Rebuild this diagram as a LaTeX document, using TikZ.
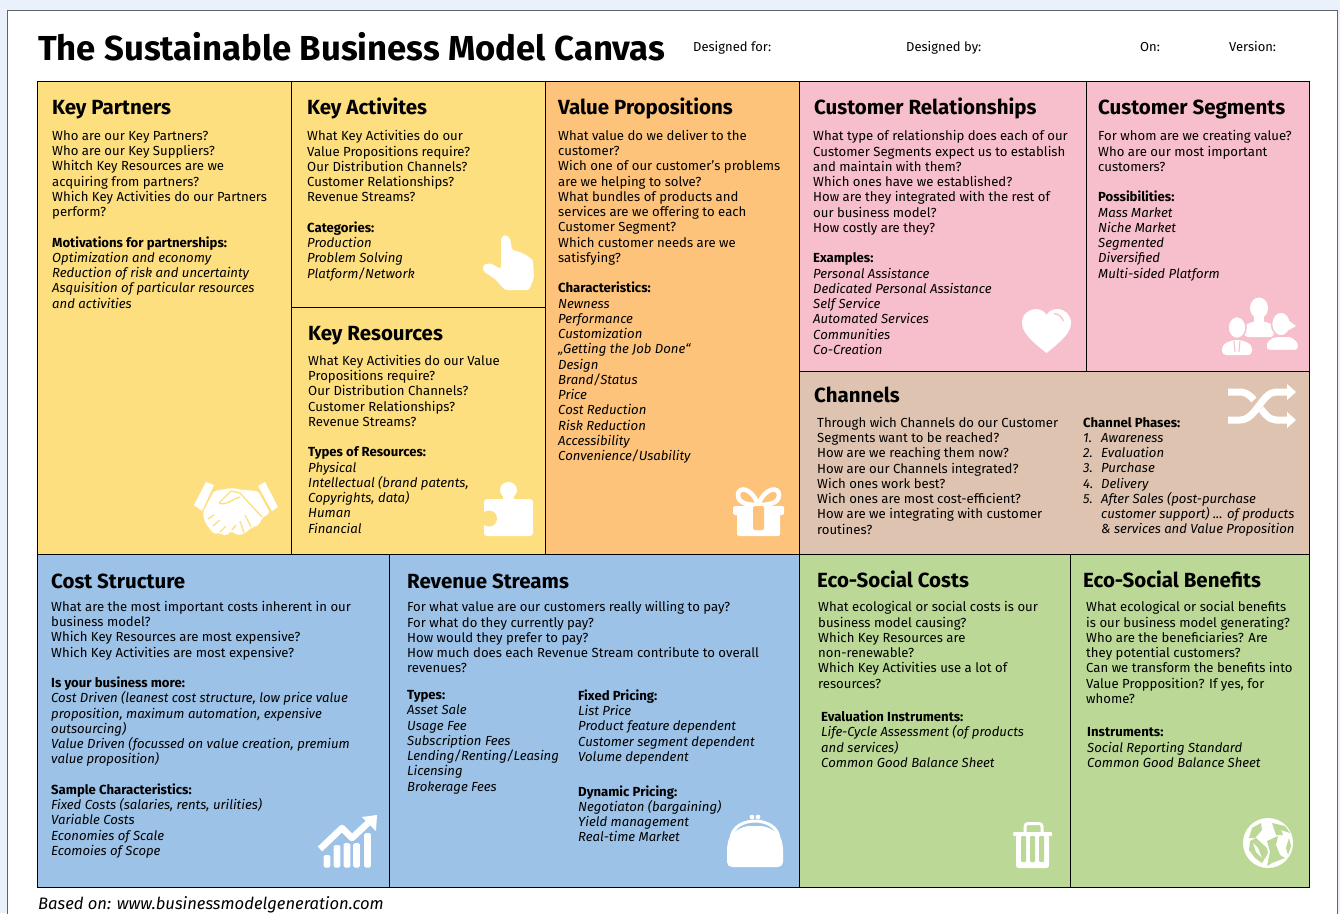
\documentclass[tikz,border=0pt]{standalone}
\usepackage{fontspec}
\setmainfont{Fira Sans}
\definecolor{pagebg}{HTML}{EAF1FB}
\definecolor{rimgray}{HTML}{5F646B}
\definecolor{yellowbg}{HTML}{FEDF7F}
\definecolor{orangebg}{HTML}{FDC37A}
\definecolor{pinkbg}{HTML}{F7BECB}
\definecolor{tanbg}{HTML}{DEC3B0}
\definecolor{bluebg}{HTML}{9CC2E8}
\definecolor{greenbg}{HTML}{BBD896}
\newcommand{\lbl}[1]{\textbf{#1}}
\newcommand{\blank}{\\[\baselineskip]}
\newcommand{\numd}[1]{\makebox[18pt][l]{#1}}
\tikzset{
  cell/.style={draw=black,line width=1pt},
  heading/.style={anchor=base west,inner sep=0pt,font=\fontsize{20.5}{24}\selectfont\bfseries},
  bodytext/.style={anchor=north west,inner sep=0pt,align=left,font=\fontsize{13.15}{15.25}\selectfont,execute at begin node={\strut}},
  small/.style={anchor=base west,inner sep=0pt,font=\fontsize{13}{15}\selectfont},
  icon/.style={fill=white,draw=none},
}
\begin{document}
\begin{tikzpicture}[x=1pt,y=-1pt]

  \useasboundingbox (0,0) rectangle (1340,913);
  \fill[pagebg] (0,0) rectangle (1340,913);
  \draw[rimgray,line width=1pt,fill=white] (7.5,10.5) rectangle (1337.5,920);

  \node (TITLE) at (38,60) [anchor=base west,inner sep=0pt,font=\fontsize{34.7}{40}\selectfont\bfseries] {The Sustainable Business Model Canvas};
  \node (FOR) at (693,51) [small] {Designed for:};
  \node (BY) at (906,51) [small] {Designed by:};
  \node (ON) at (1140,51) [small] {On:};
  \node (VER) at (1229,51) [small] {Version:};

  \draw[cell,fill=yellowbg] (37.5,81.5) rectangle (291.5,554.5);
  \draw[cell,fill=yellowbg] (291.5,81.5) rectangle (545.5,307.5);
  \draw[cell,fill=yellowbg] (291.5,307.5) rectangle (545.5,554.5);
  \draw[cell,fill=orangebg] (545.5,81.5) rectangle (799.5,554.5);
  \draw[cell,fill=pinkbg] (799.5,81.5) rectangle (1086.5,371.5);
  \draw[cell,fill=pinkbg] (1086.5,81.5) rectangle (1309.5,371.5);
  \draw[cell,fill=tanbg] (799.5,371.5) rectangle (1309.5,554.5);
  \draw[cell,fill=bluebg] (37.5,554.5) rectangle (389.5,887.5);
  \draw[cell,fill=bluebg] (389.5,554.5) rectangle (799.5,887.5);
  \draw[cell,fill=greenbg] (799.5,554.5) rectangle (1070.5,887.5);
  \draw[cell,fill=greenbg] (1070.5,554.5) rectangle (1309.5,887.5);

  \node (PARTH) at (52,114) [heading] {Key Partners};
  \node (PARTB) at (52,130.3) [bodytext] {Who are our Key Partners?\\
    Who are our Key Suppliers?\\
    Whitch Key Resources are we\\
    acquiring from partners?\\
    Which Key Activities do our Partners\\
    perform?\blank
    \lbl{Motivations for partnerships:}\\
    \itshape Optimization and economy\\
    \itshape Reduction of risk and uncertainty\\
    \itshape Asquisition of particular resources\\
    \itshape and activities};

  \node (ACTH) at (307,114) [heading] {Key Activites};
  \node (ACTB) at (307,130.3) [bodytext] {What Key Activities do our\\
    Value Propositions require?\\
    Our Distribution Channels?\\
    Customer Relationships?\\
    Revenue Streams?\blank
    \lbl{Categories:}\\
    \itshape Production\\
    \itshape Problem Solving\\
    \itshape Platform/Network};

  \node (RESH) at (308,340) [heading] {Key Resources};
  \node (RESB) at (308,354.8) [bodytext] {What Key Activities do our Value\\
    Propositions require?\\
    Our Distribution Channels?\\
    Customer Relationships?\\
    Revenue Streams?\blank
    \lbl{Types of Resources:}\\
    \itshape Physical\\
    \itshape Intellectual (brand patents,\\
    \itshape Copyrights, data)\\
    \itshape Human\\
    \itshape Financial};

  \node (VALH) at (558,114) [heading] {Value Propositions};
  \node (VALB) at (558,129.8) [bodytext] {What value do we deliver to the\\
    customer?\\
    Wich one of our customer’s problems\\
    are we helping to solve?\\
    What bundles of products and\\
    services are we offering to each\\
    Customer Segment?\\
    Which customer needs are we\\
    satisfying?\blank
    \lbl{Characteristics:}\\
    \itshape Newness\\
    \itshape Performance\\
    \itshape Customization\\
    \itshape „Getting the Job Done“\\
    \itshape Design\\
    \itshape Brand/Status\\
    \itshape Price\\
    \itshape Cost Reduction\\
    \itshape Risk Reduction\\
    \itshape Accessibility\\
    \itshape Convenience/Usability};

  \node (RELH) at (814,114) [heading] {Customer Relationships};
  \node (RELB) at (813,130.3) [bodytext] {What type of relationship does each of our\\
    Customer Segments expect us to establish\\
    and maintain with them?\\
    Which ones have we established?\\
    How are they integrated with the rest of\\
    our business model?\\
    How costly are they?\blank
    \lbl{Examples:}\\
    \itshape Personal Assistance\\
    \itshape Dedicated Personal Assistance\\
    \itshape Self Service\\
    \itshape Automated Services\\
    \itshape Communities\\
    \itshape Co-Creation};

  \node (SEGH) at (1098,114) [heading] {Customer Segments};
  \node (SEGB) at (1098,130.3) [bodytext] {For whom are we creating value?\\
    Who are our most important\\
    customers?\blank
    \lbl{Possibilities:}\\
    \itshape Mass Market\\
    \itshape Niche Market\\
    \itshape Segmented\\
    \itshape Diversified\\
    \itshape Multi-sided Platform};

  \node (CHANH) at (814,402) [heading] {Channels};
  \node (CHANB) at (817,417) [bodytext] {Through wich Channels do our Customer\\
    Segments want to be reached?\\
    How are we reaching them now?\\
    How are our Channels integrated?\\
    Wich ones work best?\\
    Wich ones are most cost-efficient?\\
    How are we integrating with customer\\
    routines?};
  \node (PHASE) at (1083,417) [bodytext] {\lbl{Channel Phases:}\\
    \itshape\numd{1.}Awareness\\
    \itshape\numd{2.}Evaluation\\
    \itshape\numd{3.}Purchase\\
    \itshape\numd{4.}Delivery\\
    \itshape\numd{5.}After Sales (post-purchase\\
    \itshape\numd{}customer support) ... of products\\
    \itshape\numd{}\& services and Value Proposition};

  \node (COSTH) at (51,588) [heading] {Cost Structure};
  \node (COSTB) at (51,600.8) [bodytext] {What are the most important costs inherent in our\\
    business model?\\
    Which Key Resources are most expensive?\\
    Which Key Activities are most expensive?\blank
    \lbl{Is your business more:}\\
    \itshape Cost Driven (leanest cost structure, low price value\\
    \itshape proposition, maximum automation, expensive\\
    \itshape outsourcing)\\
    \itshape Value Driven (focussed on value creation, premium\\
    \itshape value proposition)\blank
    \lbl{Sample Characteristics:}\\
    \itshape Fixed Costs (salaries, rents, urilities)\\
    \itshape Variable Costs\\
    \itshape Economies of Scale\\
    \itshape Ecomoies of Scope};

  \node (REVH) at (407,588) [heading] {Revenue Streams};
  \node (REVB) at (407,601.3) [bodytext] {For what value are our customers really willing to pay?\\
    For what do they currently pay?\\
    How would they prefer to pay?\\
    How much does each Revenue Stream contribute to overall\\
    revenues?};
  \node (TYPES) at (407,690.3) [bodytext] {\lbl{Types:}\\
    \itshape Asset Sale\\
    \itshape Usage Fee\\
    \itshape Subscription Fees\\
    \itshape Lending/Renting/Leasing\\
    \itshape Licensing\\
    \itshape Brokerage Fees};
  \node (FIXED) at (578,689.5) [bodytext] {\lbl{Fixed Pricing:}\\
    \itshape List Price\\
    \itshape Product feature dependent\\
    \itshape Customer segment dependent\\
    \itshape Volume dependent};
  \node (DYNAM) at (578,785.3) [bodytext] {\lbl{Dynamic Pricing:}\\
    \itshape Negotiaton (bargaining)\\
    \itshape Yield management\\
    \itshape Real-time Market};

  \node (ECOCH) at (817,587) [heading] {Eco-Social Costs};
  \node (ECOCB) at (818,601.3) [bodytext] {What ecological or social costs is our\\
    business model causing?\\
    Which Key Resources are\\
    non-renewable?\\
    Which Key Activities use a lot of\\
    resources?};
  \node (EVAL) at (821,710.8) [bodytext] {\lbl{Evaluation Instruments:}\\
    \itshape Life-Cycle Assessment (of products\\
    \itshape and services)\\
    \itshape Common Good Balance Sheet};

  \node (ECOBH) at (1083,587) [heading] {Eco-Social Benefits};
  \node (ECOBB) at (1086,601.3) [bodytext] {What ecological or social benefits\\
    is our business model generating?\\
    Who are the beneficiaries? Are\\
    they potential customers?\\
    Can we transform the benefits into\\
    Value Propposition? If yes, for\\
    whome?};
  \node (INSTR) at (1087,727.5) [bodytext] {\lbl{Instruments:}\\
    \itshape Social Reporting Standard\\
    \itshape Common Good Balance Sheet};

  \node (BASED) at (38,909) [anchor=base west,inner sep=0pt,font=\fontsize{16.6}{18}\selectfont\itshape] {Based on: www.businessmodelgeneration.com};

  % hand
  \fill[icon,rounded corners=2.5pt] (501,238) -- (505,234.5) -- (510,238) -- (512,250) -- (520,252) -- (526,255) -- (533,260) -- (534,278) -- (529,290) -- (505,290) -- (495,279) -- (483,271) -- (483,265) -- (490,263) -- (501,269) -- cycle;

  % handshake
  \fill[icon] (194,505) -- (206,482) -- (214,485) -- (202,511) -- cycle;
  \fill[icon] (258,486) -- (265,482) -- (278,507) -- (272,511) -- cycle;
  \fill[icon,rounded corners=2pt] (214,491) -- (232,488) -- (243,490) -- (258,491) -- (270,513) -- (262,518) -- (259,525) -- (251,528) -- (244,534) -- (237,535) -- (231,531) -- (226,536) -- (220,533) -- (214,534) -- (209,528) -- (204,520) -- (203,512) -- cycle;
  \draw[yellowbg,line width=1.3pt] (219,503) -- (231,491) -- (240,493) -- (262,517);
  \draw[yellowbg,line width=1.3pt] (219,503) .. controls (226,506) and (232,499) .. (240,497);
  \draw[yellowbg,line width=1.3pt] (208,519) -- (214,515) (213,526) -- (220,520) (220,532) -- (226,526) (232,530) -- (236,525) (244,533) -- (240,521) (251,527) -- (245,515);

  % puzzle
  \fill[icon,rounded corners=3pt] (484,499) rectangle (533,536);
  \fill[icon] (508.5,490) circle[x radius=8.5,y radius=8];
  \fill[icon] (503,496) rectangle (514,501);
  \fill[yellowbg] (489,518.5) circle (8);

  % gift
  \draw[white,line width=4.5pt] (758,505) .. controls (750,505) and (738,504) .. (738,495) .. controls (738,486) and (752,487) .. (758,505) .. controls (765,487) and (779,486) .. (779,495) .. controls (779,504) and (767,505) .. (758,505);
  \fill[icon,rounded corners=1.5pt] (733,506) rectangle (784,515);
  \fill[icon,rounded corners=1.5pt] (737,512) rectangle (780,536);
  \fill[orangebg,rounded corners=1.5pt] (753,506) rectangle (764,530);

  % heart
  \fill[icon] (1046.5,353) .. controls (1030,340) and (1022,332) .. (1022,323) .. controls (1022,314) and (1029,309) .. (1036,309) .. controls (1041,309) and (1045,312) .. (1046.5,315) .. controls (1048,312) and (1052,309) .. (1057,309) .. controls (1065,309) and (1071,315) .. (1071,323) .. controls (1071,332) and (1063,340) .. cycle;
  \draw[pinkbg,line width=1.3pt] (1054,313.5) .. controls (1059,314) and (1062,317) .. (1063.5,321);

  % people
  \fill[icon] (1259,308) ellipse [x radius=9,y radius=10.5];
  \fill[icon] (1254,315) rectangle (1264,324);
  \fill[icon,rounded corners=5pt] (1243,337) -- (1243,326) -- (1254,321) -- (1264,321) -- (1276,326) -- (1276,337) -- cycle;
  \filldraw[fill=white,draw=pinkbg,line width=1.5pt,rounded corners=3pt] (1266,350.5) -- (1266,342) -- (1274,336) -- (1291,336) -- (1298.5,342) -- (1298.5,350.5) -- cycle;
  \filldraw[fill=white,draw=pinkbg,line width=1.5pt] (1281,324) ellipse [x radius=9.5,y radius=12];
  \fill[icon] (1285,318) -- (1296,326) -- (1289,330) -- (1283,330) -- cycle;
  \fill[pinkbg] (1272,334) -- (1278,335) -- (1276,338) -- cycle;
  \fill[icon,rounded corners=4pt] (1222,355) -- (1222,345) -- (1232,340) -- (1242,340) -- (1252,345) -- (1252,355) -- cycle;
  \draw[pinkbg,line width=1pt] (1234,341) -- (1235,352) (1240,341) -- (1239,352);
  \filldraw[fill=white,draw=pinkbg,line width=1.5pt] (1237,327.5) ellipse [x radius=9,y radius=11];

  % shuffle
  \draw[white,line width=7pt] (1228,392) -- (1240,392) .. controls (1256,392) and (1262,420) .. (1276,420) -- (1288,420);
  \draw[tanbg,line width=11pt] (1254,408) -- (1264,398);
  \draw[white,line width=7pt] (1228,420) -- (1240,420) .. controls (1256,420) and (1262,392) .. (1276,392) -- (1288,392);
  \fill[icon] (1287,384) -- (1296,392) -- (1287,400) -- cycle;
  \fill[icon] (1287,412) -- (1296,420) -- (1287,428) -- cycle;

  % chart
  \foreach \x/\t in {327/855,337/845,347/843,356.5/843,367.5/833} {
    \fill[icon,rounded corners=1.5pt] (\x-3.3,\t) rectangle (\x+3.3,867.5);
  }
  \draw[bluebg,line width=11pt] (320,849) -- (342,828) -- (352,838) -- (371,820);
  \draw[white,line width=6.5pt,line join=round] (320,849) -- (342,828) -- (352,838) -- (368,823);
  \fill[icon] (362,817) -- (377,815) -- (376,831) -- cycle;

  % purse
  \draw[white,line width=3pt] (731,840) .. controls (731,826) and (745,821) .. (755,821) .. controls (765,821) and (779,826) .. (779,840);
  \fill[icon] (752,817) circle (2.4);
  \fill[icon] (758,817) circle (2.4);
  \fill[icon,rounded corners=5pt] (727,867) -- (727,845) .. controls (731,832) and (742,826) .. (755,826) .. controls (768,826) and (779,832) .. (783,845) -- (783,867) -- cycle;

  % bin
  \draw[white,line width=3pt,rounded corners=3pt] (1025,833) -- (1025,823.5) -- (1042,823.5) -- (1042,833);
  \fill[icon,rounded corners=1pt] (1013,832) rectangle (1052,836);
  \fill[icon,rounded corners=2.5pt] (1016,835) rectangle (1049,868);
  \foreach \x in {1021,1030,1039} {
    \fill[greenbg,rounded corners=1pt] (\x,836) rectangle (\x+5,862);
  }

  % globe
  \fill[icon] (1268,843) circle (25);
  \fill[greenbg] (1252,828) -- (1261,823) -- (1262,830) -- (1255,838) -- (1249,838) -- cycle;
  \fill[greenbg] (1250,841) -- (1256,838) -- (1267,848) -- (1268,853) -- (1262,863) -- (1255,858) -- (1249,850) -- cycle;
  \fill[icon] (1253,843) -- (1258,848) -- (1262,858) -- (1256,852) -- cycle;
  \fill[greenbg] (1272,823) -- (1285,826) -- (1290,833) -- (1281,830) -- (1283,835) -- (1276,835) -- cycle;
  \fill[greenbg] (1267,841) -- (1278,836) -- (1276,845) -- (1280,855) -- (1285,858) -- (1272,863) -- (1267,866) -- (1270,852) -- cycle;
  \fill[greenbg] (1289,838) -- (1291,846) -- (1288,855) -- (1286,848) -- cycle;

\end{tikzpicture}
\end{document}
